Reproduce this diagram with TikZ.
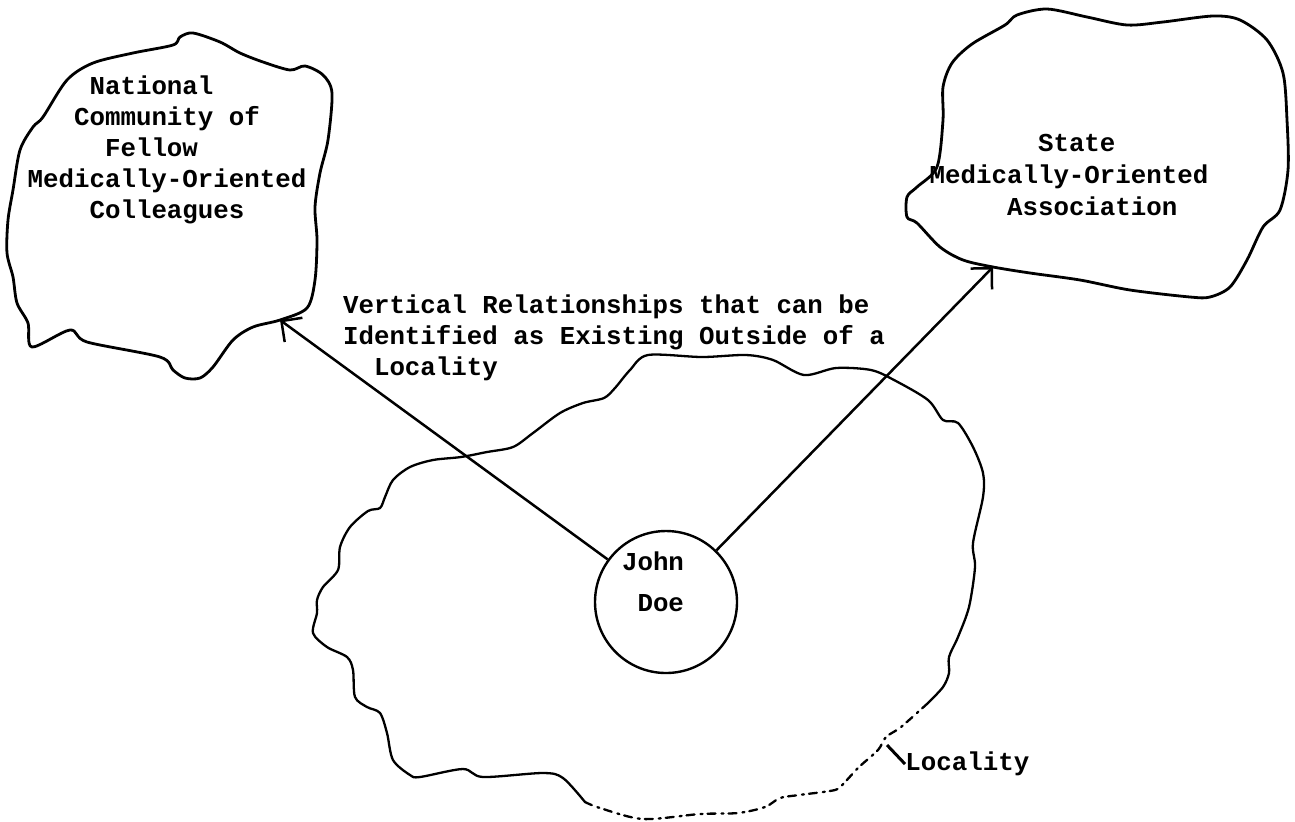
\documentclass[tikz,border=0pt]{standalone}
\usepackage{fontspec}
\setmonofont{Liberation Mono}
\usetikzlibrary{arrows.meta}
\begin{document}
\begin{tikzpicture}[x=0.5pt,y=-0.5pt,
  tw/.style={font=\ttfamily\bfseries\fontsize{12.9}{15.5}\selectfont, inner sep=0pt, align=left},
  blob/.style={line width=1.4pt, line join=round, line cap=round},
  thinblob/.style={line width=1.15pt, line join=round, line cap=round},
  rel/.style={line width=1.25pt, -{Straight Barb[length=7.5pt,width=15pt,line width=1.25pt]}},
  person/.style={circle, draw, line width=1.2pt, minimum size=71pt, inner sep=0pt},
]
\fill[white] (0,0) rectangle (1295,821);
\useasboundingbox (0,0) rectangle (1295,821);

% National community blob
\draw[blob] plot[smooth cycle, tension=0.5] coordinates {
 (180,37) (193,33) (220,42) (240,53) (263,62) (290,70) (305,66) (323,75) (332,93)
 (328,140) (320,173) (315,207) (317,240) (315,280) (307,308) (280,320) (253,327)
 (233,340) (213,367) (200,378) (185,378) (173,370) (160,357) (87,342) (70,330)
 (32,347) (28,323) (17,303) (13,277) (7,253) (8,220) (13,190) (20,150) (33,127)
 (43,117) (67,80) (93,63) (133,53) (173,45)};

% State association blob
\draw[blob] plot[smooth cycle, tension=0.5] coordinates {
 (943,87) (952,63) (972,44) (1005,25) (1017,15) (1047,9) (1087,17) (1127,25)
 (1163,22) (1213,16) (1240,20) (1267,40) (1283,73) (1287,120) (1288,170)
 (1280,210) (1263,227) (1247,260) (1230,287) (1210,297) (1190,297) (1130,290)
 (1080,280) (1030,273) (993,267) (963,260) (940,247) (917,223) (907,217)
 (907,197) (917,187) (937,167) (943,120)};

% Locality blob (solid part)
\draw[thinblob] plot[smooth, tension=0.5] coordinates {
 (585,802) (563,778) (543,773) (483,777) (463,769) (420,777) (410,775) (393,760)
 (387,733) (380,713) (367,707) (355,697) (353,670) (347,657) (327,647) (313,633)
 (317,613) (317,600) (323,587) (338,570) (340,547) (350,527) (368,511) (380,508)
 (385,497) (393,480) (410,467) (433,460) (461,457) (487,452) (513,447) (533,433)
 (560,413) (583,403) (604,398) (615,388) (630,370) (648,355) (702,357) (746,355)
 (773,360) (804,375) (836,368) (871,370) (894,380) (928,400) (943,420) (958,423)
 (973,447) (983,473) (983,497) (973,543) (975,567) (969,607) (958,637) (949,657)
 (949,673) (943,687) (928,703)};
% Locality blob (faded, broken part)
\draw[thinblob, dash pattern=on 4pt off 2.5pt on 1pt off 3pt] plot[smooth, tension=0.5] coordinates {
 (928,703) (901,727) (886,737) (878,750) (859,767) (844,783) (835,790) (799,795)
 (780,798) (765,807) (738,813) (700,814) (643,819) (600,808) (585,802)};

% Person
\node[person] (jd) at (666,602) {};
\node[tw, align=left] (jdtext) at (653,582) {John\\[5pt]\hphantom{0}Doe};

% Arrow end points on the outer blobs
\coordinate (natTip) at (280,320);
\coordinate (stTip) at (993,267);
\draw[rel] (jd) -- (natTip);
\draw[rel] (jd) -- (stTip);

% Texts
\node[tw] (nat) at (167,150) {\hphantom{0000}National\\\hphantom{000}Community of\\\hphantom{00000}Fellow\\Medically-Oriented\\\hphantom{0000}Colleagues};
\node[tw, font=\ttfamily\bfseries\fontsize{12.9}{16.2}\selectfont] (st) at (1069,175) {\hphantom{0000000}State\\Medically-Oriented\\\hphantom{00000}Association};
\node[tw] (vert) at (614,338) {Vertical Relationships that can be\\Identified as Existing Outside of a\\\hphantom{00}Locality};

% Locality label
\node[tw, anchor=west] (loclbl) at (905,764) {Locality};
\coordinate (locTick) at (887,745);
\draw[line width=1.5pt] (locTick) -- (loclbl.west);
\end{tikzpicture}
\end{document}
